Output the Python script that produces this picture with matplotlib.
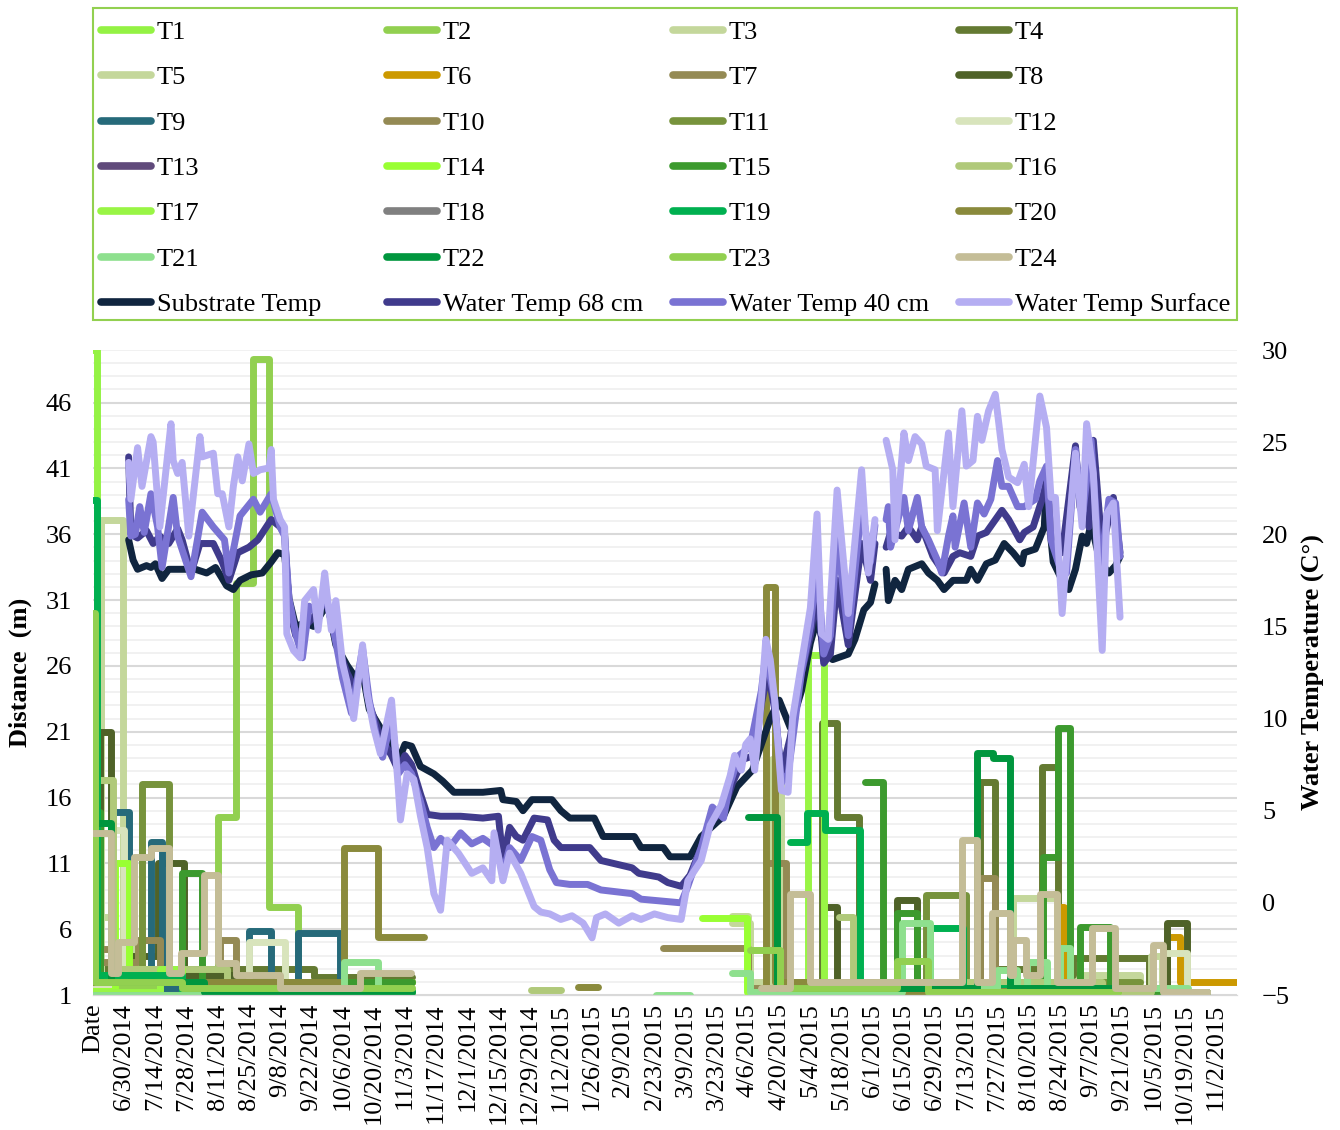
import numpy as np
import pandas as pd
import matplotlib
matplotlib.use("Agg")
from matplotlib import pyplot as plt
from matplotlib.lines import Line2D
from matplotlib.patches import Rectangle
from matplotlib.ticker import FixedLocator, MultipleLocator

plt.rcParams['font.family'] = ['Liberation Serif', 'DejaVu Serif']

nan = np.nan
start = pd.Timestamp('2014-06-16')   # day 0 of the axis (the "Date" tick)

# ---- tag distances (m), step series as [day, distance] ----
T1 = [[0, 50], [2, 1.5], [90, 1.2], [143, nan]]
T2 = [[0, 1.5], [56, 14.5], [64, 32.3], [72, 49.3], [79, 7.7], [92, 1.5], [143, nan]]
T3 = [[0, 6.9], [9, 3.0], [60, 1.3], [143, nan], [287, 6.5], [295, 2.0], [305, 18.9], [309, 2.0],
      [413, 8.4], [433, 2.5], [470, 1.2], [500, nan]]
T4 = [[0, 3.0], [99, 2.4], [143, nan], [300, 1.3], [327, 21.7], [334, 14.5], [344, 1.5], [398, 17.2],
      [405, 3.0], [426, 18.3], [433, 2.5], [440, 3.8], [474, 1.2], [500, nan]]
T5 = [[0, 2.0], [3.5, 37.1], [13.5, 5.0], [17, 3.0], [30, 1.5], [140, nan], [287, 7.0], [294, 2.0],
      [380, 1.5], [475, 4.0], [480, 1.2], [500, nan]]
T6 = [[300, 1.0], [433, 7.7], [436, 1.5], [482, 5.4], [488, 2.0], [513.5, 2.0]]
T7 = [[0, 4.5], [8, 2.5], [57, 5.2], [64, 2.0], [143, nan], [256, 4.6], [294, 1.5], [398, 9.9],
      [405, 2.0], [460, nan]]
T8 = [[0, 2.0], [3, 21.0], [8, 4.0], [29, 11.0], [41, 2.5], [80, 1.3], [143, nan], [329.6, 7.7],
      [334, 1.5], [361, 8.2], [370, 1.5], [482, 6.5], [491, 1.2], [500, nan]]
T9 = [[0, 1.5], [9, 14.9], [16, 2.0], [26, 12.6], [31, 1.5], [70, 5.9], [80, 1.5], [92, 5.7],
      [111, 1.2], [143, nan]]
T10 = [[0, 3.5], [20, 5.2], [30, 2.0], [143, nan], [302, 11.0], [311, 2.0], [400, 1.5], [440, 1.3],
       [470, nan]]
T11 = [[0, 2.0], [22, 17.0], [34, 2.0], [143, nan], [300, 1.5], [374, 8.6], [392, 2.0], [470, nan]]
T12 = [[0, 1.5], [9, 13.5], [14, 2.0], [70, 5.0], [86, 1.5], [143, nan], [482, 4.2], [491, 1.2],
       [500, nan]]
T13 = [[0, 1.0], [143, nan]]
T14 = [[0, 1.3], [10, 11.0], [16, 3.0], [40, 2.0], [143, nan], [273.5, 6.85], [293.7, 1.2],
       [390, 2.0], [405, 1.2], [470, nan]]
T15 = [[0, 14.9], [3, 2.0], [40, 10.3], [49, 2.0], [143, nan], [346.6, 17.2], [354.7, 1.5],
       [361, 7.2], [370, 1.5], [426.5, 11.5], [433, 21.3], [438.6, 1.5], [443, 6.2], [456.5, 1.2],
       [480, nan]]
T16 = [[0, 2.0], [1, 17.3], [9, 3.0], [60, 1.3], [143, nan], [196.4, 1.4], [210, nan], [335, 6.9],
       [341, 2.0], [453, 1.2], [475, nan]]
T17 = [[0, 1.2], [30, 3.0], [40, 1.2], [143, nan], [300, 1.2], [321, 26.8], [328, 1.2], [460, nan]]
T18 = [[0, 1.0], [143, nan]]
T19 = [[0, 38.6], [2, 2.5], [40, 1.3], [143, nan], [313, 12.6], [320.6, 14.8], [328.7, 13.5],
       [344.4, 1.5], [375.8, 6.1], [390.6, 1.5], [460, nan]]
T20 = [[0, 2.0], [112.6, 12.2], [127.8, 5.4], [148.4, nan], [217.9, 1.6], [226.5, nan], [300, 1.5],
       [302, 32.0], [306.3, 2.0], [350, 1.3], [460, nan]]
T21 = [[0, 1.0], [112.6, 3.5], [127.8, 1.0], [143, nan], [252.5, 1.0], [268, nan], [287, 2.7],
       [295, 1.2], [363.2, 6.5], [375.8, 1.5], [405.8, 2.9], [414.8, 1.5], [419.3, 3.5], [428, 1.5],
       [434, 4.6], [438.6, 1.5], [482.5, 1.5], [491.5, nan]]
T22 = [[0, 14.1], [8, 2.0], [50, 1.2], [143, nan], [294.2, 14.5], [307.2, 1.5], [397, 19.4],
       [404, 19.0], [411.7, 1.5], [460, nan]]
T23 = [[0, 30.0], [1, 2.0], [40, 1.5], [143, nan], [295, 4.4], [308.5, 1.5], [361, 3.6], [375, 1.2],
       [460, nan]]
T24 = [[0, 13.3], [8, 2.7], [11, 5.0], [18.4, 11.5], [26, 12.2], [34, 2.7], [39.5, 4.2], [50, 10.1],
       [56, 3.4], [64, 2.5], [84, 1.5], [120, 2.7], [142.6, nan], [300, 1.5], [313, 8.7], [322, 2.0],
       [390, 12.8], [397, 2.0], [403.6, 7.2], [411.7, 2.5], [413, 5.2], [419, 2.5], [425.1, 8.7],
       [432.7, 2.0], [448.4, 6.1], [458.7, 1.5], [475.8, 4.8], [480.3, 1.2], [500, nan]]

# ---- temperatures (C), [day, temp] ----
substrate = [(16, 19.7), (18, 18.6), (20, 18.1), (24, 18.3), (26, 18.2), (28, 18.4), (31, 17.6), (34, 18.1),
             (40, 18.1), (46, 18.1), (51, 17.9), (55, 18.2), (60, 17.2), (63, 17.0), (66, 17.5), (71, 17.8),
             (76, 17.9), (80, 18.5), (83, 19.0), (86, 18.9), (88, 16.5), (91, 15.0), (95, 15.2), (99, 15.0),
             (104, 16.0), (106, 15.8), (109, 14.0), (114, 12.9), (118, 12.2), (121, 12.5), (124, 10.5),
             (129, 9.5), (134, 8.5), (137, 7.7), (140, 8.6), (143, 8.5), (147, 7.4), (153, 7.0), (157, 6.6),
             (162, 6.0), (175, 6.0), (183, 6.1), (184, 5.6), (190, 5.5), (193, 5.0), (197, 5.6), (206, 5.6),
             (210, 5.0), (214, 4.6), (225, 4.6), (229, 3.6), (243, 3.6), (246, 3.0), (256, 3.0), (259, 2.5),
             (268, 2.5), (273, 3.6), (283, 4.7), (289, 6.3), (296, 7.2), (304, 10.0), (308, 11.0), (313, 9.5),
             (318, 11.5), (320, 12.8), (322, 14.1), (325, 15.4), (329, 13.5), (332, 13.2), (339, 13.5),
             (342, 14.3), (346, 15.9), (349, 16.3), (351, 17.3), (352, nan), (356, 18.1), (357, 16.4),
             (360, 17.5), (363, 17.0), (366, 18.1), (372, 18.4), (375, 17.9), (379, 17.5), (382, 17.0),
             (386, 17.5), (392, 17.5), (394, 18.1), (397, 17.5), (401, 18.4), (405, 18.6), (409, 19.5),
             (413, 19.0), (417, 18.4), (418, 19.0), (423, 19.2), (427, 20.4), (428, 23.1), (429, 21.0),
             (431, 18.5), (435, 17.5), (438, 17.0), (441, 18.1), (444, 19.9), (446, 19.5), (448, 20.6),
             (452, 18.5), (456, 17.9), (459, 18.3), (461, 18.8)]
water_68 = [(16, 24.2), (17, 20.0), (20, 19.8), (24, 20.2), (27, 19.5), (30, 19.9), (34, 19.5), (38, 20.3),
            (40, 19.7), (44, 17.9), (48, 19.5), (54, 19.5), (58, 18.5), (61, 17.5), (65, 19.0), (70, 19.3),
            (74, 19.7), (80, 20.8), (84, 20.4), (86, 20.0), (88, 16.0), (91, 14.5), (95, 15.0), (99, 15.5),
            (104, 16.5), (106, 15.8), (109, 14.2), (114, 12.5), (118, 11.5), (121, 13.0), (124, 10.8),
            (129, 9.0), (134, 8.0), (137, 7.2), (140, 8.0), (143, 7.5), (147, 5.9), (150, 4.8), (156, 4.7),
            (165, 4.7), (175, 4.6), (182, 4.7), (184, 2.3), (187, 4.1), (190, 3.6), (193, 3.4), (198, 4.6),
            (204, 4.5), (207, 3.4), (210, 3.0), (217, 3.0), (223, 3.0), (228, 2.3), (235, 2.1), (242, 1.9),
            (245, 1.6), (254, 1.4), (258, 1.1), (264, 0.9), (268, 1.5), (273, 3.0), (278, 4.5), (283, 5.0),
            (287, 6.5), (292, 7.8), (297, 8.0), (300, 10.8), (303, 12.5), (306, 10.5), (309, 7.0), (313, 9.0),
            (318, 12.5), (322, 14.5), (325, 17.0), (328, 13.0), (331, 13.5), (334, 17.5), (339, 14.0),
            (345, 19.5), (349, 17.5), (351, 19.5), (352, nan), (356, 19.3), (358, 20.1), (363, 19.9),
            (366, 20.4), (370, 19.7), (372, 20.4), (377, 18.8), (382, 17.9), (386, 18.8), (389, 19.0),
            (394, 18.8), (397, 19.9), (401, 20.1), (408, 21.3), (411, 20.8), (416, 19.7), (418, 20.1),
            (422, 20.4), (426, 21.9), (428, 22.9), (431, 20.0), (435, 19.0), (441, 24.8), (443, 21.5),
            (447, 20.4), (449, 25.1), (453, 19.2), (458, 22.0), (461, 19.0)]
water_40 = [(16, 21.9), (17, 19.9), (19, 20.0), (21, 21.5), (23, 20.1), (26, 22.2), (29, 20.4), (31, 18.2),
            (36, 22.0), (38, 19.9), (44, 17.7), (49, 21.2), (54, 20.4), (59, 19.7), (61, 17.9), (66, 21.0),
            (72, 21.9), (75, 21.2), (80, 22.2), (84, 20.4), (86, 19.9), (88, 16.5), (91, 14.6), (94, 13.3),
            (97, 16.1), (101, 15.7), (104, 16.8), (108, 14.8), (112, 12.2), (116, 10.3), (121, 13.8),
            (124, 11.0), (127, 9.2), (130, 7.9), (134, 10.0), (137, 7.0), (140, 7.5), (143, 7.0), (147, 5.5),
            (150, 4.1), (153, 3.0), (156, 3.5), (160, 3.0), (165, 3.8), (170, 3.2), (175, 3.5), (181, 3.0),
            (184, 1.6), (187, 3.0), (192, 2.3), (197, 3.6), (201, 3.4), (205, 1.8), (208, 1.1), (214, 1.0),
            (222, 1.0), (228, 0.7), (242, 0.5), (246, 0.2), (264, 0.0), (267, 0.9), (273, 3.0), (278, 5.2),
            (283, 4.6), (286, 6.5), (290, 8.0), (295, 8.5), (300, 11.5), (302, 13.5), (306, 11.0), (309, 6.5),
            (312, 7.0), (318, 12.5), (322, 15.0), (325, 18.5), (328, 13.5), (331, 14.5), (334, 20.0),
            (339, 14.5), (345, 21.5), (349, 18.5), (351, 20.5), (352, nan), (356, 20.8), (357, 21.5),
            (358, 19.3), (364, 22.0), (366, 20.2), (370, 22.0), (372, 20.4), (375, 19.7), (379, 18.6),
            (381, 17.9), (384, 19.9), (386, 21.0), (387, 19.3), (391, 21.7), (394, 19.3), (397, 21.7),
            (400, 21.1), (403, 21.9), (406, 24.0), (408, 22.6), (411, 22.6), (415, 21.5), (418, 21.5),
            (423, 21.9), (425, 22.9), (428, 23.7), (430, 19.7), (434, 18.2), (437, 17.9), (441, 24.6),
            (444, 20.8), (448, 25.1), (452, 17.9), (456, 21.9), (459, 21.7), (461, 18.8)]
water_surface = [(16, 23.9), (17, 21.9), (20, 24.7), (22, 22.6), (26, 25.3), (27, 25.0), (30, 20.4), (35, 26.0),
                 (36, 24.0), (38, 23.3), (40, 23.9), (43, 19.9), (48, 25.3), (49, 24.2), (54, 24.4), (56, 22.2),
                 (58, 22.2), (61, 20.4), (63, 22.6), (65, 24.2), (67, 22.9), (70, 24.9), (72, 23.3), (75, 23.5),
                 (79, 23.6), (80, 24.6), (81, 21.9), (84, 20.8), (86, 20.4), (87, 14.6), (90, 13.7), (93, 13.3),
                 (95, 16.4), (99, 17.0), (101, 14.8), (104, 17.9), (105, 16.8), (107, 14.8), (109, 16.4),
                 (112, 13.0), (114, 12.0), (117, 10.0), (121, 14.0), (123, 11.4), (126, 9.5), (129, 8.1),
                 (134, 11.0), (137, 6.3), (138, 4.5), (141, 7.0), (144, 6.7), (147, 4.7), (150, 3.0), (153, 0.5),
                 (156, -0.4), (159, 3.4), (164, 2.7), (170, 1.6), (175, 1.9), (179, 1.2), (180, 3.8), (184, 1.2),
                 (187, 2.7), (192, 1.6), (198, -0.2), (201, -0.5), (205, -0.6), (210, -0.9), (215, -0.7),
                 (220, -1.1), (224, -1.9), (226, -0.8), (230, -0.6), (236, -1.1), (242, -0.7), (246, -0.9),
                 (252, -0.6), (258, -0.8), (264, -0.9), (267, 1.2), (273, 2.3), (277, 4.2), (282, 5.3),
                 (286, 6.9), (288, 8.0), (291, 7.2), (293, 8.6), (295, 8.9), (297, 7.2), (300, 11.0), (302, 14.3),
                 (304, 13.2), (306, 11.0), (309, 6.1), (312, 6.0), (314, 10.0), (318, 13.0), (322, 16.0),
                 (325, 21.1), (327, 14.6), (330, 14.3), (334, 22.4), (339, 15.7), (345, 23.5), (348, 17.9),
                 (351, 20.8), (352, nan), (356, 25.1), (359, 23.5), (360, 19.7), (364, 25.5), (366, 24.0),
                 (369, 25.3), (372, 24.9), (374, 23.7), (378, 23.5), (379, 20.2), (384, 25.5), (386, 21.5),
                 (390, 26.7), (392, 23.7), (395, 24.0), (397, 26.4), (399, 25.1), (402, 26.7), (405, 27.6),
                 (408, 24.6), (411, 23.1), (415, 22.8), (418, 23.8), (420, 21.5), (425, 27.5), (428, 25.8),
                 (430, 22.0), (432, 22.0), (435, 15.7), (437, 18.8), (441, 24.4), (444, 20.4), (446, 26.0),
                 (449, 23.3), (453, 13.7), (455, 21.1), (458, 21.7), (461, 15.5)]

tag_names = [f'T{i}' for i in range(1, 25)]
tag_series = [T1, T2, T3, T4, T5, T6, T7, T8, T9, T10, T11, T12,
              T13, T14, T15, T16, T17, T18, T19, T20, T21, T22, T23, T24]
tag_colors = ['#94F244', '#92D050', '#C4D79B', '#647A32', '#C4D79B', '#CC9900', '#948A54', '#4F6228',
              '#266A7A', '#948A54', '#77933C', '#D8E4BC', '#604A7B', '#99FF33', '#3C9A2E', '#B0C97A',
              '#99F545', '#808080', '#00B050', '#8A8A3C', '#8EE08E', '#00963E', '#92D050', '#C4BD97']
temp_names = ['Substrate Temp', 'Water Temp 68 cm', 'Water Temp 40 cm', 'Water Temp Surface']
temp_series = [substrate, water_68, water_40, water_surface]
temp_colors = ['#10253F', '#403B8C', '#7A73D3', '#B5AEF2']

LW = 5
FS = 19
W, H = 1340, 1130

fig = plt.figure(figsize=(W / 100, H / 100), dpi=100)
ax = fig.add_axes([93 / W, 135 / H, 1144 / W, 645 / H])
ax2 = ax.twinx()

for s, c in zip(tag_series, tag_colors):
    d = np.array(s, dtype=float)
    ax.plot(d[:, 0], d[:, 1], drawstyle='steps-post', color=c, lw=LW,
            solid_joinstyle='round', solid_capstyle='round')

for s, c in zip(temp_series, temp_colors):
    d = np.array(s, dtype=float)
    ax2.plot(d[:, 0], d[:, 1], color=c, lw=LW, solid_joinstyle='round', solid_capstyle='round')

ax.set_xlim(0, 513.5)
ax.set_ylim(1, 50)
ax2.set_ylim(-5, 30)
ax.yaxis.set_major_locator(FixedLocator(range(1, 47, 5)))
ax.yaxis.set_minor_locator(MultipleLocator(1))
ax.grid(axis='y', which='minor', color='#F0F0F0', lw=1.3)
ax.grid(axis='y', which='major', color='#D9D9D9', lw=1.5)
ax.set_axisbelow(True)
ax2.set_yticks(range(-5, 31, 5))

xticks = np.arange(0, 505, 14)
tick_dates = start + pd.to_timedelta(xticks[1:], unit='D')
xlabels = ['Date'] + [f'{t.month}/{t.day}/{t.year}' for t in tick_dates]
ax.set_xticks(xticks)
ax.set_xticklabels(xlabels, rotation=90)

ax.tick_params(which='both', length=0)
ax.tick_params(axis='y', labelsize=FS, pad=15)
ax.tick_params(axis='x', labelsize=FS, pad=6)
ax2.tick_params(length=0, labelsize=FS, pad=18)

for a in (ax, ax2):
    for side in ('top', 'left', 'right'):
        a.spines[side].set_visible(False)
    a.spines['bottom'].set_color('#D9D9D9')

fig.text(20 / W, 1 - 672 / H, 'Distance  (m)', rotation=90, weight='bold', size=FS,
         ha='center', va='center')
fig.text(1313 / W, 1 - 672 / H, 'Water Temperature (C°)', rotation=90, weight='bold', size=FS,
         ha='center', va='center')

# legend drawn by hand: 4 equal columns, filled row by row
names = tag_names + temp_names
colors = tag_colors + temp_colors
fig.add_artist(Rectangle((93 / W, 1 - 320 / H), 1144 / W, 312 / H, transform=fig.transFigure,
                         fill=False, edgecolor='#92D050', lw=1.5))
for i, (name, c) in enumerate(zip(names, colors)):
    r, col = divmod(i, 4)
    x0 = 97 + col * 286
    y = 1 - (30 + r * 45.3) / H
    fig.add_artist(Line2D([(x0 + 4) / W, (x0 + 54) / W], [y, y], transform=fig.transFigure,
                          color=c, lw=5.5, solid_capstyle='round'))
    fig.text((x0 + 60) / W, y - 9 / H, name, size=FS, ha='left', va='baseline')

fig.savefig('out.png', dpi=100)
